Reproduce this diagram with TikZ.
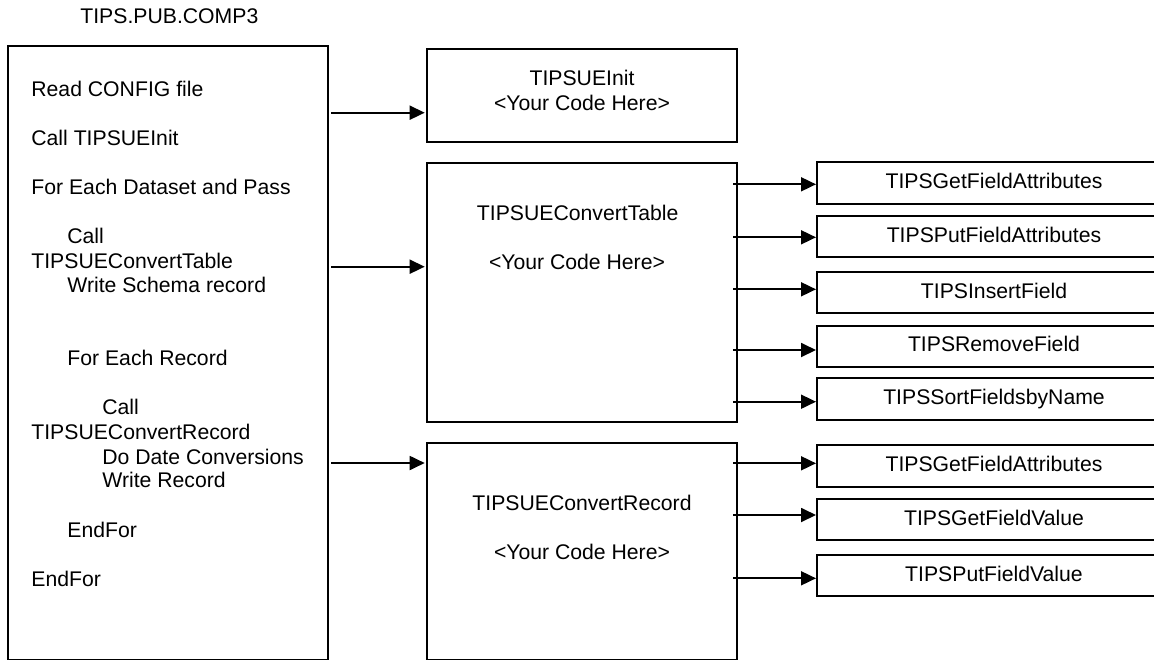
\documentclass[tikz,border=0pt]{standalone}
\usepackage{fontspec}
\setmainfont{Liberation Sans}
\usetikzlibrary{arrows.meta}
\begin{document}
\begin{tikzpicture}[x=0.5pt,y=-0.5pt,
  box/.style={draw,line width=1pt,outer sep=0pt,inner sep=0pt,rectangle},
  txt/.style={inner sep=0pt,anchor=base west,font=\fontsize{10.6pt}{12.2pt}\selectfont},
  ctxt/.style={inner sep=0pt,anchor=base,font=\fontsize{10.6pt}{12.2pt}\selectfont},
  arr/.style={line width=0.9pt,-{Triangle[length=7.5pt,width=7pt]}},
  fnbox/.style={box,minimum width=177pt,minimum height=20.75pt,text height=7.5pt,text depth=2pt,font=\fontsize{10.6pt}{12.2pt}\selectfont}]
\useasboundingbox (0,0) rectangle (1154,659);
\clip (0,0) rectangle (1154,659);

% title
\node[txt] (title) at (80,23.3) {TIPS.PUB.COMP3};

% main program box
\node[box,minimum width=160.15pt,minimum height=306.9pt] (main) at (168.15,352.6) {};
\node[txt] (l1) at (31,96.7) {Read CONFIG file};
\node[txt] (l2) at (31,145) {Call TIPSUEInit};
\node[txt] (l3) at (31,194) {For Each Dataset and Pass};
\node[txt] (l4) at (67,243) {Call};
\node[txt] (l5) at (31,268) {TIPSUEConvertTable};
\node[txt] (l6) at (67,292.7) {Write Schema record};
\node[txt] (l7) at (67,365) {For Each Record};
\node[txt] (l8) at (102,414) {Call};
\node[txt] (l9) at (31,439) {TIPSUEConvertRecord};
\node[txt] (l10) at (102,464) {Do Date Conversions};
\node[txt] (l11) at (102,487.7) {Write Record};
\node[txt] (l12) at (67,537.3) {EndFor};
\node[txt] (l13) at (31,586) {EndFor};

% exit boxes
\node[box,minimum width=155pt,minimum height=46.35pt] (init) at (581.7,95.35) {};
\node[ctxt] (initA) at (582,85) {TIPSUEInit};
\node[ctxt] (initB) at (582,110) {<Your Code Here>};

\node[box,minimum width=155pt,minimum height=129.35pt] (ct) at (581.7,292.35) {};
\node[ctxt] (ctA) at (577.7,220) {TIPSUEConvertTable};
\node[ctxt] (ctB) at (577,269.3) {<Your Code Here>};

\node[box,minimum width=155pt,minimum height=108.25pt] (cr) at (581.7,551.25) {};
\node[ctxt] (crA) at (582,510.7) {TIPSUEConvertRecord};
\node[ctxt] (crB) at (582,559.3) {<Your Code Here>};

% API boxes
\node[fnbox] (t1) at (994,182.8) {TIPSGetFieldAttributes};
\node[fnbox] (t2) at (994,236.5) {TIPSPutFieldAttributes};
\node[fnbox] (t3) at (994,292.5) {TIPSInsertField};
\node[fnbox] (t4) at (994,346.3) {TIPSRemoveField};
\node[fnbox] (t5) at (994,399.2) {TIPSSortFieldsbyName};
\node[fnbox] (r1) at (994,465.8) {TIPSGetFieldAttributes};
\node[fnbox] (r2) at (994,519.7) {TIPSGetFieldValue};
\node[fnbox] (r3) at (994,575.5) {TIPSPutFieldValue};

% arrow heights
\coordinate (a1) at (0,112.7);
\coordinate (a2) at (0,266.7);
\coordinate (a3) at (0,463);
\coordinate (b1) at (0,184.3);
\coordinate (b2) at (0,237.3);
\coordinate (b3) at (0,289.3);
\coordinate (b4) at (0,350);
\coordinate (b5) at (0,401.7);
\coordinate (c1) at (0,463.3);
\coordinate (c2) at (0,515);
\coordinate (c3) at (0,578.3);

\draw[arr,shorten <=1.5pt,shorten >=1pt] (main.east |- a1) -- (init.west |- a1);
\draw[arr,shorten <=1.5pt,shorten >=1pt] (main.east |- a2) -- (ct.west |- a2);
\draw[arr,shorten <=1.5pt,shorten >=1pt] (main.east |- a3) -- (cr.west |- a3);

\foreach \b/\t in {b1/t1,b2/t2,b3/t3,b4/t4,b5/t5}
  \draw[arr,shorten <=-1.85pt,shorten >=0.5pt] (ct.east |- \b) -- (\t.west |- \b);
\foreach \c/\t in {c1/r1,c2/r2,c3/r3}
  \draw[arr,shorten <=-1.85pt,shorten >=0.5pt] (cr.east |- \c) -- (\t.west |- \c);
\end{tikzpicture}
\end{document}
